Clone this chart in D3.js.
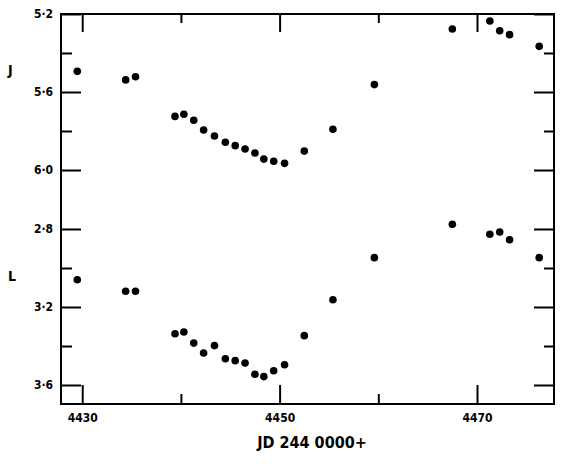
<!DOCTYPE html>
<html>
<head>
<meta charset="utf-8">
<script src="https://cdn.jsdelivr.net/npm/d3@7"></script>
<style>
  body { margin: 0; background: #fff; }
  svg text { font-family: "DejaVu Sans Condensed", "DejaVu Sans", sans-serif; font-weight: bold; fill: #000; }
</style>
</head>
<body>
<svg id="chart" width="570" height="464"></svg>
<script>
// Julian dates (JD 244 0000+) of the observations
const jd = [4429.5, 4434.4, 4435.4, 4439.4, 4440.3, 4441.3, 4442.3, 4443.4, 4444.5, 4445.5,
            4446.5, 4447.5, 4448.4, 4449.4, 4450.5, 4452.5, 4455.4, 4459.6, 4467.5, 4471.3,
            4472.3, 4473.3, 4476.3];
// J magnitudes
const jMag = [5.494, 5.538, 5.522, 5.725, 5.714, 5.745, 5.795, 5.826, 5.858, 5.875,
              5.892, 5.913, 5.944, 5.955, 5.966, 5.903, 5.791, 5.562, 5.277, 5.236,
              5.286, 5.306, 5.366];
// L magnitudes
const lMag = [3.060, 3.119, 3.119, 3.337, 3.328, 3.385, 3.436, 3.398, 3.465, 3.475,
              3.487, 3.545, 3.557, 3.527, 3.496, 3.347, 3.163, 2.947, 2.776, 2.827,
              2.815, 2.855, 2.947];

const xMajor = [4430, 4450, 4470];
const xMinor = [4440, 4460];
const jMajor = [5.2, 5.6, 6.0];
const jMinor = [5.4, 5.8];
const lMajor = [2.8, 3.2, 3.6];
const lMinor = [3.0, 3.4];

const frame = {left: 61, right: 554, top: 14, bottom: 404};

const svg = d3.select("#chart");

let x = d3.scaleLinear().domain([4427.85, 4477.8]).range([frame.left, frame.right]);
let yJ = d3.scaleLinear().domain([5.2, 6.0]).range([frame.top, 170]);
let yL = d3.scaleLinear().domain([2.8, 3.6]).range([229, 385]);

const fmt = d => d.toFixed(1).replace(".", "\u00b7");

function clean(g) {
    g.select(".domain").remove();
    g.selectAll(".tick line").attr("stroke", "#000").attr("stroke-width", 2);
    g.selectAll("text").attr("fill", "#000");
}

// bottom axis
svg.append("g").attr("transform", `translate(0,${frame.bottom})`)
    .call(d3.axisBottom(x).tickValues(xMajor).tickSize(-19).tickPadding(9).tickFormat(d3.format("d")))
    .call(clean)
    .selectAll("text").attr("font-size", 12);
svg.append("g").attr("transform", `translate(0,${frame.bottom})`)
    .call(d3.axisBottom(x).tickValues(xMinor).tickSize(-10).tickFormat(""))
    .call(clean);

// top axis
svg.append("g").attr("transform", `translate(0,${frame.top})`)
    .call(d3.axisTop(x).tickValues(xMajor).tickSize(-18).tickFormat(""))
    .call(clean);
svg.append("g").attr("transform", `translate(0,${frame.top})`)
    .call(d3.axisTop(x).tickValues(xMinor).tickSize(-9).tickFormat(""))
    .call(clean);

// left / right axes for both panels
[[yJ, jMajor, jMinor], [yL, lMajor, lMinor]].forEach(([y, major, minor]) => {
    svg.append("g").attr("transform", `translate(${frame.left},0)`)
        .call(d3.axisLeft(y).tickValues(major).tickSize(-20).tickPadding(8).tickFormat(fmt))
        .call(clean)
        .selectAll("text").attr("font-size", 12);
    svg.append("g").attr("transform", `translate(${frame.left},0)`)
        .call(d3.axisLeft(y).tickValues(minor).tickSize(-11).tickFormat(""))
        .call(clean);
    svg.append("g").attr("transform", `translate(${frame.right},0)`)
        .call(d3.axisRight(y).tickValues(major).tickSize(-20).tickFormat(""))
        .call(clean);
    svg.append("g").attr("transform", `translate(${frame.right},0)`)
        .call(d3.axisRight(y).tickValues(minor).tickSize(-10).tickFormat(""))
        .call(clean);
});

// frame
svg.append("rect")
    .attr("x", frame.left).attr("y", frame.top)
    .attr("width", frame.right - frame.left).attr("height", frame.bottom - frame.top)
    .attr("fill", "none").attr("stroke", "#000").attr("stroke-width", 2);

// points
svg.append("g").selectAll("circle").data(jd).enter().append("circle")
    .attr("cx", d => x(d))
    .attr("cy", (d, i) => yJ(jMag[i]))
    .attr("r", 3.8);
svg.append("g").selectAll("circle").data(jd).enter().append("circle")
    .attr("cx", d => x(d))
    .attr("cy", (d, i) => yL(lMag[i]))
    .attr("r", 3.8);

// panel labels and x title
svg.append("text").attr("x", 8).attr("y", 75).attr("font-size", 14).text("J");
svg.append("text").attr("x", 8).attr("y", 281).attr("font-size", 14).text("L");
svg.append("text").attr("x", 312).attr("y", 448).attr("text-anchor", "middle")
    .attr("font-size", 16).text("JD 244 0000+");
</script>
</body>
</html>
